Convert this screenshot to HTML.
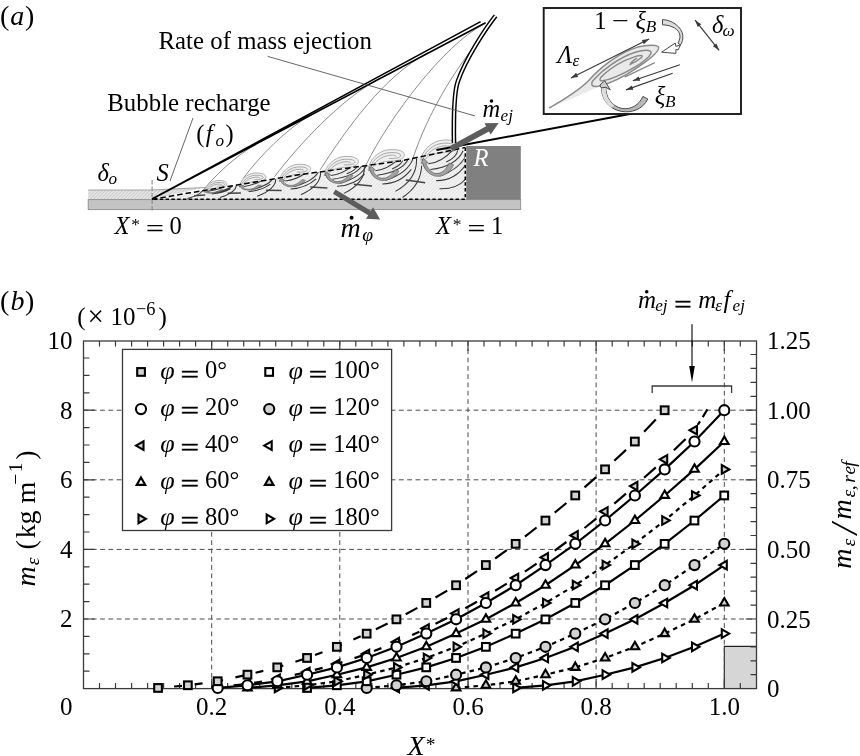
<!DOCTYPE html>
<html><head><meta charset="utf-8"><title>figure</title>
<style>
html,body{margin:0;padding:0;background:#fff;}
svg{display:block;}
text{font-family:"Liberation Serif",serif;fill:#000;}
</style></head><body>
<svg width="860" height="756" viewBox="0 0 860 756">
<rect width="860" height="756" fill="#fff"/>
<g id="panel-a">
<defs>
<pattern id="hat1" width="2.4" height="2.4" patternUnits="userSpaceOnUse" patternTransform="rotate(-45)"><rect width="2.4" height="2.4" fill="#eaeaea"/><rect width="2.4" height="1" fill="#c9c9c9"/></pattern>
<pattern id="hat2" width="2.4" height="2.4" patternUnits="userSpaceOnUse" patternTransform="rotate(-45)"><rect width="2.4" height="2.4" fill="#f4f4f4"/><rect width="2.4" height="0.9" fill="#e2e2e2"/></pattern>
<clipPath id="boxclip"><path d="M152 199.5 L190 192.8 L300 174.6 L400 161 L465.3 147.5 V199.5 Z"/></clipPath>
</defs>
<path d="M88.2 190 H152 L205 187.5 L152 199.3 H88.2 Z" fill="url(#hat1)"/>
<path d="M88.2 190 H152 L205 187.5" fill="none" stroke="#9a9a9a" stroke-width="0.9"/>
<path d="M152 199.3 L190 192.8 L300 174.6 L400 161 L465.3 147.5 V199.3 Z" fill="url(#hat2)"/>
<rect x="88.2" y="199.6" width="432.5" height="10" fill="#c3c3c3" stroke="#8c8c8c" stroke-width="0.9"/>
<rect x="466.2" y="146" width="54.6" height="53.6" fill="#808080"/>
<path d="M152.1 180 V212.5" stroke="#888" stroke-width="1.1" stroke-dasharray="4.5 2" fill="none"/>
<path d="M201.6 192.2 C212.4 177.8 236.6 154.9 256 144.5 M243.3 178.3 C258.7 157.4 286.5 128.1 313 114 M274.6 176.6 C298.3 145.6 340.3 99.4 380 78.2 M320.2 169.8 C346.7 128.5 383.9 76.2 428 52.6 M366.0 164.8 C390.1 116.5 443.3 45.8 483 24.6 M412.8 158.8 C428 112 456.6 68.5 472.3 49" fill="none" stroke="#707070" stroke-width="0.8"/>
<g>
<path d="M204.3 192.5 C204.9 187.1 210.4 181.2 217.3 180.6 C222.9 180.2 226.9 181.5 226.9 184.1 C226.8 186.5 222.7 187.9 218.4 187.8 C214.3 187.8 208.6 189.4 206.6 192.1 Z" fill="#efefef" stroke="#b0b0b0" stroke-width="1"/>
<path d="M205.8 191.3 C207.2 186.7 212.3 182.8 217.5 182.5 C221.8 182.3 224.8 183.0 224.6 184.5 C224.3 186.0 220.5 186.3 217.2 186.1 M207.7 190.0 C209.6 186.8 213.8 184.5 217.8 184.1 C220.2 184.0 222.1 184.4 221.8 184.9" fill="none" stroke="#a8a8a8" stroke-width="1"/>
<path d="M208.2 191.3 Q215.9 190.2 223.1 187.2 M211.7 194.0 Q223.0 192.8 230.5 188.7 M232.4 186.0 Q228.3 189.9 213.9 192.9 M201.7 191.0 Q201.1 194.8 187.4 198.6" fill="none" stroke="#3a3a3a" stroke-width="1.05" clip-path="url(#boxclip)"/>
<path d="M194.1 195.8 L205.2 195.1" fill="none" stroke="#444" stroke-width="1.5"/>
<path d="M222.8 189.9 C220.0 191.8 214.0 193.4 209.7 193.2 C206.8 193.0 205.5 192.3 205.1 191.5 L203.9 191.7 L205.8 190.5 L208.2 191.1 L206.9 191.3 C207.2 192.0 208.4 192.5 210.6 192.7 C213.9 192.8 217.8 191.5 220.4 189.8 Z" fill="#a2a2a2" stroke="#5a5a5a" stroke-width="0.6"/>
<path d="M239.4 187.0 C240.1 180.7 246.5 173.8 254.6 173.1 C261.2 172.6 265.9 174.1 265.9 177.2 C265.7 180.0 261.0 181.6 255.9 181.6 C251.1 181.5 244.4 183.4 242.1 186.6 Z" fill="#efefef" stroke="#b0b0b0" stroke-width="1"/>
<path d="M241.1 185.6 C242.8 180.3 248.8 175.7 254.9 175.3 C259.9 175.1 263.4 175.9 263.1 177.6 C262.8 179.4 258.4 179.8 254.5 179.6 M243.4 184.1 C245.6 180.4 250.5 177.7 255.2 177.2 C258.0 177.1 260.3 177.5 259.8 178.2" fill="none" stroke="#a8a8a8" stroke-width="1"/>
<path d="M244.1 186.5 Q253.1 185.3 261.4 180.7 M248.5 191.6 Q261.8 190.5 270.3 184.1 M272.4 179.4 Q267.8 185.9 251.0 189.9 M236.3 185.4 Q236.0 192.1 220.0 197.5" fill="none" stroke="#3a3a3a" stroke-width="1.05" clip-path="url(#boxclip)"/>
<path d="M227.7 193.2 L240.9 192.9" fill="none" stroke="#444" stroke-width="1.5"/>
<path d="M261.3 185.4 C258.1 188.6 251.2 190.8 246.0 190.0 C242.6 189.4 240.9 188.1 240.4 186.7 L239.0 186.8 L241.1 184.9 L244.0 186.2 L242.5 186.3 C243.0 187.8 244.4 188.7 247.0 189.2 C251.0 189.7 255.5 187.9 258.4 185.1 Z" fill="#a2a2a2" stroke="#5a5a5a" stroke-width="0.6"/>
<path d="M279.4 180.8 C280.2 173.4 287.9 165.3 297.3 164.4 C305.1 163.9 310.7 165.6 310.6 169.3 C310.5 172.6 304.8 174.5 298.9 174.4 C293.3 174.3 285.4 176.6 282.7 180.3 Z" fill="#efefef" stroke="#b0b0b0" stroke-width="1"/>
<path d="M281.5 179.2 C283.5 172.9 290.5 167.5 297.7 167.0 C303.6 166.8 307.7 167.7 307.4 169.8 C307.1 171.8 301.9 172.3 297.2 172.1 M284.2 177.4 C286.8 173.0 292.5 169.8 298.1 169.3 C301.3 169.1 304.1 169.6 303.5 170.4" fill="none" stroke="#a8a8a8" stroke-width="1"/>
<path d="M285.1 181.1 Q295.8 179.8 305.3 173.2 M290.6 188.9 Q306.3 188.0 316.1 178.8 M318.3 171.9 Q313.2 181.3 293.5 186.5 M275.8 178.9 Q275.8 189.0 257.1 196.3" fill="none" stroke="#3a3a3a" stroke-width="1.05" clip-path="url(#boxclip)"/>
<path d="M266.1 190.2 L281.6 190.5" fill="none" stroke="#444" stroke-width="1.5"/>
<path d="M305.4 180.3 C301.9 184.9 293.8 187.9 287.6 186.4 C283.5 185.4 281.5 183.2 280.8 181.1 L279.2 181.2 L281.5 178.5 L285.0 180.6 L283.2 180.7 C283.9 182.9 285.6 184.3 288.7 185.2 C293.5 186.2 298.7 183.6 302.0 179.6 Z" fill="#a2a2a2" stroke="#5a5a5a" stroke-width="0.6"/>
<path d="M324.5 174.3 C325.4 166.3 333.7 157.4 343.9 156.5 C352.5 155.9 358.5 157.8 358.4 161.8 C358.3 165.4 352.1 167.4 345.7 167.4 C339.5 167.3 330.9 169.7 328.0 173.8 Z" fill="#efefef" stroke="#b0b0b0" stroke-width="1"/>
<path d="M326.7 172.5 C328.9 165.7 336.6 159.8 344.4 159.3 C350.8 159.0 355.3 160.1 354.9 162.3 C354.5 164.5 348.9 165.1 343.8 164.8 M329.6 170.6 C332.5 165.9 338.8 162.4 344.8 161.8 C348.3 161.6 351.3 162.2 350.7 163.0" fill="none" stroke="#a8a8a8" stroke-width="1"/>
<path d="M330.8 175.6 Q342.4 174.2 352.6 165.9 M325.6 172.5 C326.3 181.5 335.1 184.9 347.6 179.7 M337.1 186.3 Q354.3 185.6 364.6 173.8 M357.2 165.6 Q356.2 170.2 346.7 173.8 M366.8 164.6 Q361.6 177.0 340.3 183.2 M361.9 165.8 Q355.3 176.2 332.5 179.3 M320.6 172.3 Q320.9 185.8 300.8 194.8" fill="none" stroke="#3a3a3a" stroke-width="1.05" clip-path="url(#boxclip)"/>
<path d="M310.3 187.0 L327.4 188.0" fill="none" stroke="#444" stroke-width="1.5"/>
<path d="M353.0 175.4 C349.3 181.3 340.5 185.0 333.7 182.8 C329.2 181.2 326.9 178.3 326.1 175.4 L324.3 175.5 L326.8 172.1 L330.7 174.9 L328.7 175.0 C329.5 177.9 331.5 179.9 334.9 181.3 C340.2 182.8 345.8 179.5 349.3 174.3 Z" fill="#a2a2a2" stroke="#5a5a5a" stroke-width="0.6"/>
<path d="M368.5 168.5 C369.4 160.0 378.2 150.6 389.1 149.7 C398.1 149.0 404.5 151.0 404.4 155.2 C404.2 159.0 397.7 161.2 390.9 161.2 C384.4 161.0 375.3 163.6 372.2 167.9 Z" fill="#efefef" stroke="#b0b0b0" stroke-width="1"/>
<path d="M370.9 166.6 C373.1 159.4 381.3 153.2 389.5 152.6 C396.3 152.3 401.0 153.5 400.7 155.8 C400.3 158.2 394.3 158.7 388.9 158.4 M374.0 164.6 C377.0 159.6 383.6 155.9 389.9 155.2 C393.7 155.0 396.8 155.7 396.2 156.5" fill="none" stroke="#a8a8a8" stroke-width="1"/>
<path d="M375.3 170.8 Q387.6 169.4 398.2 159.4 M369.7 166.8 C370.7 177.8 380.2 182.3 393.3 176.2 M382.3 183.9 Q400.5 183.6 411.2 169.4 M403.1 159.2 Q402.1 164.8 392.1 169.0 M413.2 158.2 Q408.0 173.3 385.6 180.3 M408.1 159.6 Q401.3 172.1 377.2 175.3 M364.4 166.5 Q365.1 183.0 344.0 193.4" fill="none" stroke="#3a3a3a" stroke-width="1.05" clip-path="url(#boxclip)"/>
<path d="M353.9 184.2 L372.0 185.9" fill="none" stroke="#444" stroke-width="1.5"/>
<path d="M398.9 171.0 C395.1 178.2 385.9 182.5 378.6 179.7 C373.7 177.6 371.3 174.0 370.3 170.4 L368.4 170.4 L371.0 166.3 L375.2 169.9 L373.1 170.0 C374.0 173.5 376.2 176.1 379.8 177.8 C385.5 179.7 391.3 175.9 394.9 169.7 Z" fill="#a2a2a2" stroke="#5a5a5a" stroke-width="0.6"/>
<path d="M420.8 160.2 C421.8 151.1 431.2 141.1 442.8 140.1 C452.4 139.4 459.2 141.5 459.1 146.0 C458.9 150.1 452.0 152.4 444.7 152.3 C437.8 152.2 428.1 155.0 424.8 159.5 Z" fill="#efefef" stroke="#b0b0b0" stroke-width="1"/>
<path d="M423.3 158.1 C425.8 150.5 434.4 143.8 443.3 143.2 C450.5 142.9 455.6 144.1 455.1 146.6 C454.7 149.1 448.3 149.7 442.6 149.4 M426.7 156.0 C429.9 150.6 436.9 146.7 443.7 146.0 C447.7 145.8 451.1 146.5 450.4 147.4" fill="none" stroke="#a8a8a8" stroke-width="1"/>
<path d="M428.3 163.8 Q441.4 162.5 452.5 150.3 M422.2 158.7 C423.6 172.5 433.9 178.5 447.7 171.2 M436.2 180.6 Q455.7 180.8 466.7 163.2 M439.5 188.8 Q459.9 189.5 469.2 174.3 M457.7 150.2 Q456.8 157.2 446.2 162.1 M468.5 149.2 Q463.4 168.0 439.6 176.1 M463.1 150.7 Q456.2 166.3 430.4 169.6 M416.5 158.1 Q417.7 178.9 395.4 191.4 M421.7 165.6 Q420.8 185.6 402.5 197.5" fill="none" stroke="#3a3a3a" stroke-width="1.05" clip-path="url(#boxclip)"/>
<path d="M405.8 180.0 L425.2 182.7" fill="none" stroke="#444" stroke-width="1.5"/>
<path d="M453.6 164.9 C449.7 173.8 440.0 178.9 432.1 175.1 C426.8 172.4 424.1 167.8 422.9 163.2 L420.9 163.2 L423.5 158.1 L428.1 162.8 L425.9 162.8 C427.0 167.3 429.4 170.5 433.4 172.8 C439.4 175.4 445.6 170.8 449.2 163.0 Z" fill="#a2a2a2" stroke="#5a5a5a" stroke-width="0.6"/>
</g>
<path d="M152 199.3 L190 192.8 L300 174.6 L400 161 L465.3 147.5" fill="none" stroke="#000" stroke-width="1.5" stroke-dasharray="5.5 3"/>
<path d="M465.3 147.5 V199.2 H152" fill="none" stroke="#000" stroke-width="1.5" stroke-dasharray="3.4 2.4"/>
<path d="M152 199 L480.6 21.6 M152 199 L485.6 22.7" fill="none" stroke="#000" stroke-width="1.6"/>
<path d="M495.6 15.8 C486 28 466 58 457.8 81.4 C453.9 92.6 453.6 120 454 143" fill="none" stroke="#000" stroke-width="4.6"/>
<path d="M495.6 15.8 C486 28 466 58 457.8 81.4 C453.9 92.6 453.6 120 454 143" fill="none" stroke="#fff" stroke-width="1.7"/>
<path d="M267.7 56.4 L474.9 115.9 M193 118 L170 181" fill="none" stroke="#555" stroke-width="0.9"/>
<path d="M436.4 150 L632.5 113.5" fill="none" stroke="#000" stroke-width="1.9"/>
<polygon points="452.3,151.3 489.0,131.4 490.7,134.6 498.6,122.9 484.5,123.2 486.2,126.3 449.5,146.3" fill="#5c5c5c"/>
<polygon points="332.9,193.8 368.2,215.2 366.0,218.8 380.2,219.5 373.0,207.2 370.9,210.8 335.5,189.4" fill="#5c5c5c"/>
<rect x="543.7" y="8" width="197.3" height="106" fill="#fff" stroke="#1a1a1a" stroke-width="1.9"/>
<path d="M549.0 108.1 C566.0 98.4 579.1 90.2 588.8 80.5 C598.6 69.1 618.1 52.8 637.7 47.1 C647.4 44.7 657.2 44.7 658.5 47.1 C659.6 50.3 652.3 57.7 637.7 67.4 C624.6 76.4 610.0 83.7 598.6 86.2 C580.7 95.1 564.4 101.6 549.0 108.1 Z" fill="#e9e9e9" stroke="none"/>
<path d="M549.0 108.1 C566.0 98.4 579.1 90.2 588.8 80.5 C598.6 69.1 618.1 52.8 637.7 47.1 C647.4 44.7 657.2 44.7 658.5 47.1 C659.6 50.3 652.3 57.7 637.7 67.4 C624.6 76.4 610.0 83.7 598.6 86.2 C592.1 87.3 589.7 84.5 593.7 79.7 C601.9 70.7 618.1 57.7 636.0 52.0 C644.2 49.5 650.7 49.5 651.0 52.3 C651.3 55.2 644.2 61.7 634.4 67.4 C623.0 74.0 610.0 79.7 602.7 80.8 C598.6 81.3 599.4 78.0 603.5 74.8 C611.6 67.4 624.6 60.1 634.4 56.9 C640.9 54.7 644.2 55.2 640.9 58.0 C637.7 60.6 632.8 63.4 630.3 64.2 C631.2 61.7 634.4 60.1 636.9 58.0" fill="none" stroke="#8a8a8a" stroke-width="1.5"/>
<path d="M624.6 77.2 L654.8 62.6" fill="none" stroke="#8a8a8a" stroke-width="1.4"/>
<path d="M570.9 78.0 L649.1 39.0" stroke="#3a3a3a" stroke-width="1.2" fill="none"/><polygon points="649.1,39.0 643.9,44.2 641.8,40.1" fill="#3a3a3a"/><polygon points="570.9,78.0 576.1,72.8 578.2,76.9" fill="#3a3a3a"/>
<path d="M695.1 20.2 L719.1 50.3" stroke="#3a3a3a" stroke-width="1.2" fill="none"/><polygon points="719.1,50.3 712.9,46.3 716.5,43.4" fill="#3a3a3a"/><polygon points="695.1,20.2 701.3,24.2 697.7,27.1" fill="#3a3a3a"/>
<path d="M679.9 64.8 L632.8 80.8" stroke="#3a3a3a" stroke-width="1.2" fill="none"/><polygon points="632.8,80.8 638.7,76.4 640.2,80.7" fill="#3a3a3a"/>
<path d="M672.7 73.2 L626.0 89.9" stroke="#3a3a3a" stroke-width="1.2" fill="none"/><polygon points="626.0,89.9 631.8,85.4 633.4,89.7" fill="#3a3a3a"/>
<path d="M662.5 19.5 C672.7 20.2 681.8 27.1 682.8 35.4 C683.1 39.2 682.3 42.3 680.5 44.9 L678.0 43.0 C679.6 40.3 680.2 37.7 679.9 35.4 C679.3 29.3 671.9 25.1 662.5 24.8 Z" fill="#dcdcdc" stroke="#4a4a4a" stroke-width="1"/>
<path d="M661.6 52.2 L675.3 43.0 L675.9 46.4 L680.5 44.9 L678.0 50.0 L675.9 49.4 L675.9 53.4 Z" fill="#fff" stroke="#4a4a4a" stroke-width="1"/>
<path d="M642.9 96.4 L647.8 99.0 C642.6 109.8 631.2 113.0 621.4 111.4 C608.4 109.0 601.0 98.4 601.5 87.0 L605.8 87.0 C605.4 96.7 611.6 106.5 622.2 108.5 C631.2 109.8 639.3 104.9 642.9 96.4 Z" fill="#b8b8b8" stroke="#4a4a4a" stroke-width="1"/>
<path d="M601.5 87.3 C601.2 95.1 604.3 102.4 611.6 107.8 L614.1 105.2 C608.0 100.0 605.4 94.3 605.8 87.3 Z" fill="#dedede" stroke="none"/>
<path d="M604.8 80.8 L610.3 89.9 L605.9 87.3 L601.2 87.8 L599.9 85.0 Z" fill="#cfcfcf" stroke="#4a4a4a" stroke-width="1"/>
<text x="158.4" y="48.6" font-size="24.8" textLength="213.4" lengthAdjust="spacing">Rate of mass ejection</text>
<text x="107.2" y="111.2" font-size="24.8" textLength="163.4" lengthAdjust="spacing">Bubble recharge</text>
<text x="196.3" y="141.5" font-size="24.5">(</text>
<text x="205.7" y="141.5" font-size="24.5" font-style="italic">f</text>
<text x="215.6" y="145.9" font-size="17.2" font-style="italic">o</text>
<text x="225.6" y="141.5" font-size="24.5">)</text>
<text x="97.6" y="181" font-size="24.5" font-style="italic">δ</text>
<text x="108.6" y="184" font-size="17.2" font-style="italic">o</text>
<text x="156.4" y="181.3" font-size="24.5" font-style="italic">S</text>
<text x="114.4" y="233.7" font-size="24.5" font-style="italic">X</text><text x="131.20000000000002" y="230.1" font-size="17.5">*</text><text x="146.0" y="236.79999999999998" font-size="24.5" textLength="17.8" lengthAdjust="spacingAndGlyphs" stroke="#000" stroke-width="0.2">=</text><text x="169.4" y="233.7" font-size="24.5">0</text>
<text x="436" y="233.7" font-size="24.5" font-style="italic">X</text><text x="452.8" y="230.1" font-size="17.5">*</text><text x="467.6" y="236.79999999999998" font-size="24.5" textLength="17.8" lengthAdjust="spacingAndGlyphs" stroke="#000" stroke-width="0.2">=</text><text x="491" y="233.7" font-size="24.5">1</text>
<text x="473.6" y="165.7" font-size="24.5" font-style="italic" style="fill:#fff">R</text>
<text x="482.6" y="116.9" font-size="24.5" font-style="italic">m</text>
<text x="500.6" y="120.7" font-size="17.2" font-style="italic">ej</text>
<circle cx="491.5" cy="101" r="1.8" fill="#000"/>
<text x="340.6" y="236.9" font-size="28" font-style="italic">m</text>
<text x="362.2" y="240.8" font-size="19.6" font-style="italic">φ</text>
<circle cx="351.6" cy="217.7" r="2" fill="#000"/>
<text x="594.2" y="29.4" font-size="24.5">1</text>
<text x="612" y="29.4" font-size="24.5" textLength="17" lengthAdjust="spacingAndGlyphs">−</text>
<text x="635.6" y="29.4" font-size="24.5" font-style="italic">ξ</text>
<text x="645.8" y="32" font-size="17.2" font-style="italic">B</text>
<text x="654.8" y="104.4" font-size="24.5" font-style="italic">ξ</text>
<text x="665.1" y="106.9" font-size="17.2" font-style="italic">B</text>
<text x="712.1" y="32.8" font-size="24.5" font-style="italic">δ</text>
<text x="722.4" y="36.2" font-size="17.2" font-style="italic">ω</text>
<text x="557.5" y="62.8" font-size="24.5" font-style="italic">Λ</text>
<text x="572.4" y="66" font-size="17.2" font-style="italic">ε</text>
</g>
<g id="panel-b">
<rect x="724.3" y="646.4" width="32.2" height="42.2" fill="#d6d6d6"/>
<path d="M724.3 688.6 V646.4 H756.5" fill="none" stroke="#222" stroke-width="1.1"/>
<path d="M211.7 341.0 V688.6 M339.8 341.0 V688.6 M468.0 341.0 V688.6 M596.1 341.0 V688.6 M724.3 341.0 V688.6 M83.5 619.0 H756.5 M83.5 549.4 H756.5 M83.5 479.8 H756.5 M83.5 410.2 H756.5" fill="none" stroke="#4a4a4a" stroke-width="1" stroke-dasharray="4.8 3.5"/>
<path d="M99.5 688.6 v-5.5 M99.5 341.0 v5.5 M115.5 688.6 v-5.5 M115.5 341.0 v5.5 M131.6 688.6 v-5.5 M131.6 341.0 v5.5 M147.6 688.6 v-5.5 M147.6 341.0 v5.5 M163.6 688.6 v-5.5 M163.6 341.0 v5.5 M179.6 688.6 v-5.5 M179.6 341.0 v5.5 M195.6 688.6 v-5.5 M195.6 341.0 v5.5 M211.7 688.6 v-10 M211.7 341.0 v10 M227.7 688.6 v-5.5 M227.7 341.0 v5.5 M243.7 688.6 v-5.5 M243.7 341.0 v5.5 M259.7 688.6 v-5.5 M259.7 341.0 v5.5 M275.7 688.6 v-5.5 M275.7 341.0 v5.5 M291.8 688.6 v-5.5 M291.8 341.0 v5.5 M307.8 688.6 v-5.5 M307.8 341.0 v5.5 M323.8 688.6 v-5.5 M323.8 341.0 v5.5 M339.8 688.6 v-10 M339.8 341.0 v10 M355.8 688.6 v-5.5 M355.8 341.0 v5.5 M371.9 688.6 v-5.5 M371.9 341.0 v5.5 M387.9 688.6 v-5.5 M387.9 341.0 v5.5 M403.9 688.6 v-5.5 M403.9 341.0 v5.5 M419.9 688.6 v-5.5 M419.9 341.0 v5.5 M435.9 688.6 v-5.5 M435.9 341.0 v5.5 M452.0 688.6 v-5.5 M452.0 341.0 v5.5 M468.0 688.6 v-10 M468.0 341.0 v10 M484.0 688.6 v-5.5 M484.0 341.0 v5.5 M500.0 688.6 v-5.5 M500.0 341.0 v5.5 M516.0 688.6 v-5.5 M516.0 341.0 v5.5 M532.1 688.6 v-5.5 M532.1 341.0 v5.5 M548.1 688.6 v-5.5 M548.1 341.0 v5.5 M564.1 688.6 v-5.5 M564.1 341.0 v5.5 M580.1 688.6 v-5.5 M580.1 341.0 v5.5 M596.1 688.6 v-10 M596.1 341.0 v10 M612.2 688.6 v-5.5 M612.2 341.0 v5.5 M628.2 688.6 v-5.5 M628.2 341.0 v5.5 M644.2 688.6 v-5.5 M644.2 341.0 v5.5 M660.2 688.6 v-5.5 M660.2 341.0 v5.5 M676.2 688.6 v-5.5 M676.2 341.0 v5.5 M692.3 688.6 v-5.5 M692.3 341.0 v5.5 M708.3 688.6 v-5.5 M708.3 341.0 v5.5 M724.3 688.6 v-10 M724.3 341.0 v10 M740.3 688.6 v-5.5 M740.3 341.0 v5.5 M83.5 671.2 h6 M83.5 653.8 h6 M83.5 636.4 h6 M83.5 619.0 h11 M83.5 601.6 h6 M83.5 584.2 h6 M83.5 566.8 h6 M83.5 549.4 h11 M83.5 532.0 h6 M83.5 514.6 h6 M83.5 497.2 h6 M83.5 479.8 h11 M83.5 462.4 h6 M83.5 445.0 h6 M83.5 427.6 h6 M83.5 410.2 h11 M83.5 392.8 h6 M83.5 375.4 h6 M83.5 358.0 h6 M756.5 674.7 h-6 M756.5 660.8 h-6 M756.5 646.8 h-6 M756.5 632.9 h-6 M756.5 619.0 h-11 M756.5 605.1 h-6 M756.5 591.2 h-6 M756.5 577.2 h-6 M756.5 563.3 h-6 M756.5 549.4 h-11 M756.5 535.5 h-6 M756.5 521.6 h-6 M756.5 507.6 h-6 M756.5 493.7 h-6 M756.5 479.8 h-11 M756.5 465.9 h-6 M756.5 452.0 h-6 M756.5 438.0 h-6 M756.5 424.1 h-6 M756.5 410.2 h-11 M756.5 396.3 h-6 M756.5 382.4 h-6 M756.5 368.4 h-6 M756.5 354.5 h-6" fill="none" stroke="#3a3a3a" stroke-width="1.2"/>
<rect x="83.5" y="341.0" width="673.0" height="347.6" fill="none" stroke="#3a3a3a" stroke-width="1.3"/>
<g><path d="M515.7 687.9 L545.5 685.3 L575.3 681.3 L605.1 674.7 L634.9 667.4 L664.7 658.0 L694.5 646.8 L724.3 633.6" fill="none" stroke="#000" stroke-width="2.2"/>
<polygon points="520.7,687.9 513.2,683.6 513.2,692.2" fill="#fff" stroke="#000" stroke-width="2.1"/>
<polygon points="550.5,685.3 543.0,681.0 543.0,689.6" fill="#fff" stroke="#000" stroke-width="2.1"/>
<polygon points="580.3,681.3 572.8,677.0 572.8,685.6" fill="#fff" stroke="#000" stroke-width="2.1"/>
<polygon points="610.1,674.7 602.6,670.4 602.6,679.0" fill="#fff" stroke="#000" stroke-width="2.1"/>
<polygon points="639.9,667.4 632.4,663.1 632.4,671.7" fill="#fff" stroke="#000" stroke-width="2.1"/>
<polygon points="669.7,658.0 662.2,653.7 662.2,662.3" fill="#fff" stroke="#000" stroke-width="2.1"/>
<polygon points="699.5,646.8 692.0,642.5 692.0,651.1" fill="#fff" stroke="#000" stroke-width="2.1"/>
<polygon points="729.3,633.6 721.8,629.3 721.8,637.9" fill="#fff" stroke="#000" stroke-width="2.1"/>
</g>
<g><path d="M456.1 687.9 L485.9 685.3 L515.7 681.3 L545.5 674.7 L575.3 667.4 L605.1 658.0 L634.9 646.8 L664.7 633.6 L694.5 619.3 L724.3 603.0" fill="none" stroke="#000" stroke-width="2.2" stroke-dasharray="4.5 4.2"/>
<polygon points="456.1,682.9 460.4,690.4 451.8,690.4" fill="#d2d2d2" stroke="#000" stroke-width="2.1"/>
<polygon points="485.9,680.3 490.2,687.8 481.6,687.8" fill="#d2d2d2" stroke="#000" stroke-width="2.1"/>
<polygon points="515.7,676.3 520.0,683.8 511.4,683.8" fill="#d2d2d2" stroke="#000" stroke-width="2.1"/>
<polygon points="545.5,669.7 549.8,677.2 541.2,677.2" fill="#d2d2d2" stroke="#000" stroke-width="2.1"/>
<polygon points="575.3,662.4 579.6,669.9 571.0,669.9" fill="#d2d2d2" stroke="#000" stroke-width="2.1"/>
<polygon points="605.1,653.0 609.4,660.5 600.8,660.5" fill="#d2d2d2" stroke="#000" stroke-width="2.1"/>
<polygon points="634.9,641.9 639.2,649.3 630.6,649.3" fill="#d2d2d2" stroke="#000" stroke-width="2.1"/>
<polygon points="664.7,628.7 669.0,636.1 660.4,636.1" fill="#d2d2d2" stroke="#000" stroke-width="2.1"/>
<polygon points="694.5,614.4 698.8,621.8 690.2,621.8" fill="#d2d2d2" stroke="#000" stroke-width="2.1"/>
<polygon points="724.3,598.0 728.6,605.5 720.0,605.5" fill="#d2d2d2" stroke="#000" stroke-width="2.1"/>
</g>
<g><path d="M396.5 687.9 L426.3 685.3 L456.1 681.3 L485.9 674.7 L515.7 667.4 L545.5 658.0 L575.3 646.8 L605.1 633.6 L634.9 619.3 L664.7 603.0 L694.5 585.2 L724.3 565.1" fill="none" stroke="#000" stroke-width="2.2"/>
<polygon points="391.5,687.9 399.0,683.6 399.0,692.2" fill="#fff" stroke="#000" stroke-width="2.1"/>
<polygon points="421.3,685.3 428.8,681.0 428.8,689.6" fill="#fff" stroke="#000" stroke-width="2.1"/>
<polygon points="451.1,681.3 458.6,677.0 458.6,685.6" fill="#fff" stroke="#000" stroke-width="2.1"/>
<polygon points="480.9,674.7 488.4,670.4 488.4,679.0" fill="#fff" stroke="#000" stroke-width="2.1"/>
<polygon points="510.7,667.4 518.2,663.1 518.2,671.7" fill="#fff" stroke="#000" stroke-width="2.1"/>
<polygon points="540.5,658.0 548.0,653.7 548.0,662.3" fill="#fff" stroke="#000" stroke-width="2.1"/>
<polygon points="570.3,646.8 577.8,642.5 577.8,651.1" fill="#fff" stroke="#000" stroke-width="2.1"/>
<polygon points="600.1,633.6 607.6,629.3 607.6,637.9" fill="#fff" stroke="#000" stroke-width="2.1"/>
<polygon points="629.9,619.3 637.4,615.0 637.4,623.6" fill="#fff" stroke="#000" stroke-width="2.1"/>
<polygon points="659.7,603.0 667.2,598.7 667.2,607.3" fill="#fff" stroke="#000" stroke-width="2.1"/>
<polygon points="689.5,585.2 697.0,580.9 697.0,589.5" fill="#fff" stroke="#000" stroke-width="2.1"/>
<polygon points="719.3,565.1 726.8,560.8 726.8,569.4" fill="#fff" stroke="#000" stroke-width="2.1"/>
</g>
<g><path d="M366.7 687.9 L396.5 685.3 L426.3 681.3 L456.1 674.7 L485.9 667.4 L515.7 658.0 L545.5 646.8 L575.3 633.6 L605.1 619.3 L634.9 603.0 L664.7 585.2 L694.5 565.1 L724.3 543.8" fill="none" stroke="#000" stroke-width="2.2" stroke-dasharray="4.5 4.2"/>
<circle cx="366.7" cy="687.9" r="5.05" fill="#d2d2d2" stroke="#000" stroke-width="2.1"/>
<circle cx="396.5" cy="685.3" r="5.05" fill="#d2d2d2" stroke="#000" stroke-width="2.1"/>
<circle cx="426.3" cy="681.3" r="5.05" fill="#d2d2d2" stroke="#000" stroke-width="2.1"/>
<circle cx="456.1" cy="674.7" r="5.05" fill="#d2d2d2" stroke="#000" stroke-width="2.1"/>
<circle cx="485.9" cy="667.4" r="5.05" fill="#d2d2d2" stroke="#000" stroke-width="2.1"/>
<circle cx="515.7" cy="658.0" r="5.05" fill="#d2d2d2" stroke="#000" stroke-width="2.1"/>
<circle cx="545.5" cy="646.8" r="5.05" fill="#d2d2d2" stroke="#000" stroke-width="2.1"/>
<circle cx="575.3" cy="633.6" r="5.05" fill="#d2d2d2" stroke="#000" stroke-width="2.1"/>
<circle cx="605.1" cy="619.3" r="5.05" fill="#d2d2d2" stroke="#000" stroke-width="2.1"/>
<circle cx="634.9" cy="603.0" r="5.05" fill="#d2d2d2" stroke="#000" stroke-width="2.1"/>
<circle cx="664.7" cy="585.2" r="5.05" fill="#d2d2d2" stroke="#000" stroke-width="2.1"/>
<circle cx="694.5" cy="565.1" r="5.05" fill="#d2d2d2" stroke="#000" stroke-width="2.1"/>
<circle cx="724.3" cy="543.8" r="5.05" fill="#d2d2d2" stroke="#000" stroke-width="2.1"/>
</g>
<g><path d="M307.1 687.9 L336.9 685.3 L366.7 681.3 L396.5 674.7 L426.3 667.4 L456.1 658.0 L485.9 646.8 L515.7 633.6 L545.5 619.3 L575.3 603.0 L605.1 585.2 L634.9 565.1 L664.7 543.8 L694.5 520.5 L724.3 495.5" fill="none" stroke="#000" stroke-width="2.2"/>
<rect x="303.2" y="684.1" width="7.7" height="7.7" fill="#fff" stroke="#000" stroke-width="2.1"/>
<rect x="333.0" y="681.4" width="7.7" height="7.7" fill="#fff" stroke="#000" stroke-width="2.1"/>
<rect x="362.8" y="677.4" width="7.7" height="7.7" fill="#fff" stroke="#000" stroke-width="2.1"/>
<rect x="392.6" y="670.8" width="7.7" height="7.7" fill="#fff" stroke="#000" stroke-width="2.1"/>
<rect x="422.4" y="663.5" width="7.7" height="7.7" fill="#fff" stroke="#000" stroke-width="2.1"/>
<rect x="452.2" y="654.1" width="7.7" height="7.7" fill="#fff" stroke="#000" stroke-width="2.1"/>
<rect x="482.0" y="643.0" width="7.7" height="7.7" fill="#fff" stroke="#000" stroke-width="2.1"/>
<rect x="511.8" y="629.8" width="7.7" height="7.7" fill="#fff" stroke="#000" stroke-width="2.1"/>
<rect x="541.6" y="615.5" width="7.7" height="7.7" fill="#fff" stroke="#000" stroke-width="2.1"/>
<rect x="571.4" y="599.1" width="7.7" height="7.7" fill="#fff" stroke="#000" stroke-width="2.1"/>
<rect x="601.2" y="581.4" width="7.7" height="7.7" fill="#fff" stroke="#000" stroke-width="2.1"/>
<rect x="631.0" y="561.2" width="7.7" height="7.7" fill="#fff" stroke="#000" stroke-width="2.1"/>
<rect x="660.8" y="540.0" width="7.7" height="7.7" fill="#fff" stroke="#000" stroke-width="2.1"/>
<rect x="690.6" y="516.7" width="7.7" height="7.7" fill="#fff" stroke="#000" stroke-width="2.1"/>
<rect x="720.4" y="491.6" width="7.7" height="7.7" fill="#fff" stroke="#000" stroke-width="2.1"/>
</g>
<g><path d="M277.3 687.9 L307.1 685.3 L336.9 681.3 L366.7 674.7 L396.5 667.4 L426.3 658.0 L456.1 646.8 L485.9 633.6 L515.7 619.3 L545.5 603.0 L575.3 585.2 L605.1 565.1 L634.9 543.8 L664.7 520.5 L694.5 495.5 L724.3 469.4" fill="none" stroke="#000" stroke-width="2.2" stroke-dasharray="4.5 4.2"/>
<polygon points="282.3,687.9 274.8,683.6 274.8,692.2" fill="#d2d2d2" stroke="#000" stroke-width="2.1"/>
<polygon points="312.1,685.3 304.6,681.0 304.6,689.6" fill="#d2d2d2" stroke="#000" stroke-width="2.1"/>
<polygon points="341.9,681.3 334.4,677.0 334.4,685.6" fill="#d2d2d2" stroke="#000" stroke-width="2.1"/>
<polygon points="371.7,674.7 364.2,670.4 364.2,679.0" fill="#d2d2d2" stroke="#000" stroke-width="2.1"/>
<polygon points="401.5,667.4 394.0,663.1 394.0,671.7" fill="#d2d2d2" stroke="#000" stroke-width="2.1"/>
<polygon points="431.3,658.0 423.8,653.7 423.8,662.3" fill="#d2d2d2" stroke="#000" stroke-width="2.1"/>
<polygon points="461.1,646.8 453.6,642.5 453.6,651.1" fill="#d2d2d2" stroke="#000" stroke-width="2.1"/>
<polygon points="490.9,633.6 483.4,629.3 483.4,637.9" fill="#d2d2d2" stroke="#000" stroke-width="2.1"/>
<polygon points="520.7,619.3 513.2,615.0 513.2,623.6" fill="#d2d2d2" stroke="#000" stroke-width="2.1"/>
<polygon points="550.5,603.0 543.0,598.7 543.0,607.3" fill="#d2d2d2" stroke="#000" stroke-width="2.1"/>
<polygon points="580.3,585.2 572.8,580.9 572.8,589.5" fill="#d2d2d2" stroke="#000" stroke-width="2.1"/>
<polygon points="610.1,565.1 602.6,560.8 602.6,569.4" fill="#d2d2d2" stroke="#000" stroke-width="2.1"/>
<polygon points="639.9,543.8 632.4,539.5 632.4,548.1" fill="#d2d2d2" stroke="#000" stroke-width="2.1"/>
<polygon points="669.7,520.5 662.2,516.2 662.2,524.8" fill="#d2d2d2" stroke="#000" stroke-width="2.1"/>
<polygon points="699.5,495.5 692.0,491.2 692.0,499.8" fill="#d2d2d2" stroke="#000" stroke-width="2.1"/>
<polygon points="729.3,469.4 721.8,465.1 721.8,473.7" fill="#d2d2d2" stroke="#000" stroke-width="2.1"/>
</g>
<g><path d="M247.5 687.9 L277.3 685.3 L307.1 681.3 L336.9 674.7 L366.7 667.4 L396.5 658.0 L426.3 646.8 L456.1 633.6 L485.9 619.3 L515.7 603.0 L545.5 585.2 L575.3 565.1 L605.1 543.8 L634.9 520.5 L664.7 495.5 L694.5 469.4 L724.3 441.5" fill="none" stroke="#000" stroke-width="2.2"/>
<polygon points="247.5,682.9 251.8,690.4 243.2,690.4" fill="#fff" stroke="#000" stroke-width="2.1"/>
<polygon points="277.3,680.3 281.6,687.8 273.0,687.8" fill="#fff" stroke="#000" stroke-width="2.1"/>
<polygon points="307.1,676.3 311.4,683.8 302.8,683.8" fill="#fff" stroke="#000" stroke-width="2.1"/>
<polygon points="336.9,669.7 341.2,677.2 332.6,677.2" fill="#fff" stroke="#000" stroke-width="2.1"/>
<polygon points="366.7,662.4 371.0,669.9 362.4,669.9" fill="#fff" stroke="#000" stroke-width="2.1"/>
<polygon points="396.5,653.0 400.8,660.5 392.2,660.5" fill="#fff" stroke="#000" stroke-width="2.1"/>
<polygon points="426.3,641.9 430.6,649.3 422.0,649.3" fill="#fff" stroke="#000" stroke-width="2.1"/>
<polygon points="456.1,628.7 460.4,636.1 451.8,636.1" fill="#fff" stroke="#000" stroke-width="2.1"/>
<polygon points="485.9,614.4 490.2,621.8 481.6,621.8" fill="#fff" stroke="#000" stroke-width="2.1"/>
<polygon points="515.7,598.0 520.0,605.5 511.4,605.5" fill="#fff" stroke="#000" stroke-width="2.1"/>
<polygon points="545.5,580.3 549.8,587.7 541.2,587.7" fill="#fff" stroke="#000" stroke-width="2.1"/>
<polygon points="575.3,560.1 579.6,567.5 571.0,567.5" fill="#fff" stroke="#000" stroke-width="2.1"/>
<polygon points="605.1,538.9 609.4,546.3 600.8,546.3" fill="#fff" stroke="#000" stroke-width="2.1"/>
<polygon points="634.9,515.6 639.2,523.0 630.6,523.0" fill="#fff" stroke="#000" stroke-width="2.1"/>
<polygon points="664.7,490.5 669.0,497.9 660.4,497.9" fill="#fff" stroke="#000" stroke-width="2.1"/>
<polygon points="694.5,464.4 698.8,471.8 690.2,471.8" fill="#fff" stroke="#000" stroke-width="2.1"/>
<polygon points="724.3,436.6 728.6,444.0 720.0,444.0" fill="#fff" stroke="#000" stroke-width="2.1"/>
</g>
<g><path d="M217.7 687.0 L247.5 683.9 L277.3 678.9 L307.1 672.0 L336.9 664.0 L366.7 654.0 L396.5 642.1 L426.3 628.5" fill="none" stroke="#000" stroke-width="2.2" stroke-dasharray="8 12.7" stroke-dashoffset="4.7"/>
<path d="M435.5 623.8 L447.2 618.0 M465.3 608.2 L477.0 601.7 M495.1 590.8 L506.8 583.6 M524.9 571.6 L536.6 563.6 M554.7 550.6 L566.4 542.0 M584.5 528.0 L596.2 518.7 M614.3 503.6 L626.0 493.7 M644.1 477.8 L655.8 467.4 M673.9 450.3 L685.6 439.0 M697.9 424.7 L700.0 421.3 M702.7 417.1 L707.4 409.4" fill="none" stroke="#000" stroke-width="2.2"/>
<polygon points="212.7,687.0 220.2,682.7 220.2,691.3" fill="#d2d2d2" stroke="#000" stroke-width="2.1"/>
<polygon points="242.5,683.9 250.0,679.6 250.0,688.2" fill="#d2d2d2" stroke="#000" stroke-width="2.1"/>
<polygon points="272.3,678.9 279.8,674.6 279.8,683.2" fill="#d2d2d2" stroke="#000" stroke-width="2.1"/>
<polygon points="302.1,672.0 309.6,667.7 309.6,676.3" fill="#d2d2d2" stroke="#000" stroke-width="2.1"/>
<polygon points="331.9,664.0 339.4,659.7 339.4,668.3" fill="#d2d2d2" stroke="#000" stroke-width="2.1"/>
<polygon points="361.7,654.0 369.2,649.7 369.2,658.3" fill="#d2d2d2" stroke="#000" stroke-width="2.1"/>
<polygon points="391.5,642.1 399.0,637.8 399.0,646.4" fill="#d2d2d2" stroke="#000" stroke-width="2.1"/>
<polygon points="421.3,628.5 428.8,624.2 428.8,632.8" fill="#d2d2d2" stroke="#000" stroke-width="2.1"/>
<polygon points="451.1,613.5 458.6,609.2 458.6,617.8" fill="#d2d2d2" stroke="#000" stroke-width="2.1"/>
<polygon points="480.9,596.6 488.4,592.3 488.4,600.9" fill="#d2d2d2" stroke="#000" stroke-width="2.1"/>
<polygon points="510.7,578.0 518.2,573.7 518.2,582.3" fill="#d2d2d2" stroke="#000" stroke-width="2.1"/>
<polygon points="540.5,557.4 548.0,553.1 548.0,561.7" fill="#d2d2d2" stroke="#000" stroke-width="2.1"/>
<polygon points="570.3,535.4 577.8,531.1 577.8,539.7" fill="#d2d2d2" stroke="#000" stroke-width="2.1"/>
<polygon points="600.1,511.5 607.6,507.2 607.6,515.8" fill="#d2d2d2" stroke="#000" stroke-width="2.1"/>
<polygon points="629.9,486.1 637.4,481.8 637.4,490.4" fill="#d2d2d2" stroke="#000" stroke-width="2.1"/>
<polygon points="659.7,459.3 667.2,455.0 667.2,463.6" fill="#d2d2d2" stroke="#000" stroke-width="2.1"/>
<polygon points="689.5,430.2 697.0,425.9 697.0,434.5" fill="#d2d2d2" stroke="#000" stroke-width="2.1"/>
</g>
<g><path d="M217.7 687.9 L247.5 685.3 L277.3 681.3 L307.1 674.7 L336.9 667.4 L366.7 658.0 L396.5 646.8 L426.3 633.6 L456.1 619.3 L485.9 603.0 L515.7 585.2 L545.5 565.1 L575.3 543.8 L605.1 520.5 L634.9 495.5 L664.7 469.4 L694.5 441.5 L724.3 410.2" fill="none" stroke="#000" stroke-width="2.2"/>
<circle cx="217.7" cy="687.9" r="5.05" fill="#fff" stroke="#000" stroke-width="2.1"/>
<circle cx="247.5" cy="685.3" r="5.05" fill="#fff" stroke="#000" stroke-width="2.1"/>
<circle cx="277.3" cy="681.3" r="5.05" fill="#fff" stroke="#000" stroke-width="2.1"/>
<circle cx="307.1" cy="674.7" r="5.05" fill="#fff" stroke="#000" stroke-width="2.1"/>
<circle cx="336.9" cy="667.4" r="5.05" fill="#fff" stroke="#000" stroke-width="2.1"/>
<circle cx="366.7" cy="658.0" r="5.05" fill="#fff" stroke="#000" stroke-width="2.1"/>
<circle cx="396.5" cy="646.8" r="5.05" fill="#fff" stroke="#000" stroke-width="2.1"/>
<circle cx="426.3" cy="633.6" r="5.05" fill="#fff" stroke="#000" stroke-width="2.1"/>
<circle cx="456.1" cy="619.3" r="5.05" fill="#fff" stroke="#000" stroke-width="2.1"/>
<circle cx="485.9" cy="603.0" r="5.05" fill="#fff" stroke="#000" stroke-width="2.1"/>
<circle cx="515.7" cy="585.2" r="5.05" fill="#fff" stroke="#000" stroke-width="2.1"/>
<circle cx="545.5" cy="565.1" r="5.05" fill="#fff" stroke="#000" stroke-width="2.1"/>
<circle cx="575.3" cy="543.8" r="5.05" fill="#fff" stroke="#000" stroke-width="2.1"/>
<circle cx="605.1" cy="520.5" r="5.05" fill="#fff" stroke="#000" stroke-width="2.1"/>
<circle cx="634.9" cy="495.5" r="5.05" fill="#fff" stroke="#000" stroke-width="2.1"/>
<circle cx="664.7" cy="469.4" r="5.05" fill="#fff" stroke="#000" stroke-width="2.1"/>
<circle cx="694.5" cy="441.5" r="5.05" fill="#fff" stroke="#000" stroke-width="2.1"/>
<circle cx="724.3" cy="410.2" r="5.05" fill="#fff" stroke="#000" stroke-width="2.1"/>
</g>
<g><path d="M158.1 687.9 L187.9 685.3 L217.7 681.3 L247.5 674.7 L277.3 667.4 L307.1 658.0 L336.9 646.8 L366.7 633.6" fill="none" stroke="#000" stroke-width="2.2" stroke-dasharray="8 12.7" stroke-dashoffset="4.7"/>
<path d="M375.9 629.2 L387.6 623.6 M405.7 614.3 L417.4 607.9 M435.5 597.5 L447.2 590.6 M465.3 579.0 L477.0 571.1 M495.1 558.5 L506.8 550.2 M524.9 536.6 L536.6 527.5 M554.7 512.7 L566.4 503.0 M584.5 487.4 L596.2 477.2 M614.3 460.7 L626.0 449.9 M644.1 431.8 L655.8 419.6" fill="none" stroke="#000" stroke-width="2.2"/>
<rect x="154.2" y="684.1" width="7.7" height="7.7" fill="#d2d2d2" stroke="#000" stroke-width="2.1"/>
<rect x="184.0" y="681.4" width="7.7" height="7.7" fill="#d2d2d2" stroke="#000" stroke-width="2.1"/>
<rect x="213.8" y="677.4" width="7.7" height="7.7" fill="#d2d2d2" stroke="#000" stroke-width="2.1"/>
<rect x="243.6" y="670.8" width="7.7" height="7.7" fill="#d2d2d2" stroke="#000" stroke-width="2.1"/>
<rect x="273.4" y="663.5" width="7.7" height="7.7" fill="#d2d2d2" stroke="#000" stroke-width="2.1"/>
<rect x="303.2" y="654.1" width="7.7" height="7.7" fill="#d2d2d2" stroke="#000" stroke-width="2.1"/>
<rect x="333.0" y="643.0" width="7.7" height="7.7" fill="#d2d2d2" stroke="#000" stroke-width="2.1"/>
<rect x="362.8" y="629.8" width="7.7" height="7.7" fill="#d2d2d2" stroke="#000" stroke-width="2.1"/>
<rect x="392.6" y="615.5" width="7.7" height="7.7" fill="#d2d2d2" stroke="#000" stroke-width="2.1"/>
<rect x="422.4" y="599.1" width="7.7" height="7.7" fill="#d2d2d2" stroke="#000" stroke-width="2.1"/>
<rect x="452.2" y="581.4" width="7.7" height="7.7" fill="#d2d2d2" stroke="#000" stroke-width="2.1"/>
<rect x="482.0" y="561.2" width="7.7" height="7.7" fill="#d2d2d2" stroke="#000" stroke-width="2.1"/>
<rect x="511.8" y="540.0" width="7.7" height="7.7" fill="#d2d2d2" stroke="#000" stroke-width="2.1"/>
<rect x="541.6" y="516.7" width="7.7" height="7.7" fill="#d2d2d2" stroke="#000" stroke-width="2.1"/>
<rect x="571.4" y="491.6" width="7.7" height="7.7" fill="#d2d2d2" stroke="#000" stroke-width="2.1"/>
<rect x="601.2" y="465.5" width="7.7" height="7.7" fill="#d2d2d2" stroke="#000" stroke-width="2.1"/>
<rect x="631.0" y="437.7" width="7.7" height="7.7" fill="#d2d2d2" stroke="#000" stroke-width="2.1"/>
<rect x="660.8" y="406.4" width="7.7" height="7.7" fill="#d2d2d2" stroke="#000" stroke-width="2.1"/>
</g>
<rect x="122.5" y="349.4" width="269.1" height="181.1" fill="#fff" stroke="#3a3a3a" stroke-width="1.3"/>
<rect x="137.2" y="368.1" width="7.7" height="7.7" fill="#d2d2d2" stroke="#000" stroke-width="2.1"/>
<text x="160.29999999999998" y="378.8" font-size="26" font-style="italic">φ</text>
<text x="180.6" y="382.5" font-size="24.5" textLength="18.5" lengthAdjust="spacingAndGlyphs" stroke="#000" stroke-width="0.45">=</text>
<text x="205.1" y="378.2" font-size="24.5">0°</text>
<circle cx="141.0" cy="409.1" r="5.05" fill="#fff" stroke="#000" stroke-width="2.1"/>
<text x="160.29999999999998" y="415.6" font-size="26" font-style="italic">φ</text>
<text x="180.6" y="419.3" font-size="24.5" textLength="18.5" lengthAdjust="spacingAndGlyphs" stroke="#000" stroke-width="0.45">=</text>
<text x="205.1" y="415.0" font-size="24.5">20°</text>
<polygon points="136.0,445.6 143.5,441.3 143.5,449.9" fill="#d2d2d2" stroke="#000" stroke-width="2.1"/>
<text x="160.29999999999998" y="452.1" font-size="26" font-style="italic">φ</text>
<text x="180.6" y="455.8" font-size="24.5" textLength="18.5" lengthAdjust="spacingAndGlyphs" stroke="#000" stroke-width="0.45">=</text>
<text x="205.1" y="451.5" font-size="24.5">40°</text>
<polygon points="141.0,477.4 145.3,484.9 136.7,484.9" fill="#fff" stroke="#000" stroke-width="2.1"/>
<text x="160.29999999999998" y="488.6" font-size="26" font-style="italic">φ</text>
<text x="180.6" y="492.3" font-size="24.5" textLength="18.5" lengthAdjust="spacingAndGlyphs" stroke="#000" stroke-width="0.45">=</text>
<text x="205.1" y="488.0" font-size="24.5">60°</text>
<polygon points="146.0,518.8 138.5,514.5 138.5,523.1" fill="#d2d2d2" stroke="#000" stroke-width="2.1"/>
<text x="160.29999999999998" y="525.2" font-size="26" font-style="italic">φ</text>
<text x="180.6" y="528.9" font-size="24.5" textLength="18.5" lengthAdjust="spacingAndGlyphs" stroke="#000" stroke-width="0.45">=</text>
<text x="205.1" y="524.6" font-size="24.5">80°</text>
<rect x="265.3" y="368.1" width="7.7" height="7.7" fill="#fff" stroke="#000" stroke-width="2.1"/>
<text x="288.4" y="378.8" font-size="26" font-style="italic">φ</text>
<text x="308.7" y="382.5" font-size="24.5" textLength="18.5" lengthAdjust="spacingAndGlyphs" stroke="#000" stroke-width="0.45">=</text>
<text x="333.2" y="378.2" font-size="24.5">100°</text>
<circle cx="269.2" cy="409.1" r="5.05" fill="#d2d2d2" stroke="#000" stroke-width="2.1"/>
<text x="288.4" y="415.6" font-size="26" font-style="italic">φ</text>
<text x="308.7" y="419.3" font-size="24.5" textLength="18.5" lengthAdjust="spacingAndGlyphs" stroke="#000" stroke-width="0.45">=</text>
<text x="333.2" y="415.0" font-size="24.5">120°</text>
<polygon points="264.2,445.6 271.7,441.3 271.7,449.9" fill="#fff" stroke="#000" stroke-width="2.1"/>
<text x="288.4" y="452.1" font-size="26" font-style="italic">φ</text>
<text x="308.7" y="455.8" font-size="24.5" textLength="18.5" lengthAdjust="spacingAndGlyphs" stroke="#000" stroke-width="0.45">=</text>
<text x="333.2" y="451.5" font-size="24.5">140°</text>
<polygon points="269.2,477.4 273.5,484.9 264.9,484.9" fill="#d2d2d2" stroke="#000" stroke-width="2.1"/>
<text x="288.4" y="488.6" font-size="26" font-style="italic">φ</text>
<text x="308.7" y="492.3" font-size="24.5" textLength="18.5" lengthAdjust="spacingAndGlyphs" stroke="#000" stroke-width="0.45">=</text>
<text x="333.2" y="488.0" font-size="24.5">160°</text>
<polygon points="274.2,518.8 266.7,514.5 266.7,523.1" fill="#fff" stroke="#000" stroke-width="2.1"/>
<text x="288.4" y="525.2" font-size="26" font-style="italic">φ</text>
<text x="308.7" y="528.9" font-size="24.5" textLength="18.5" lengthAdjust="spacingAndGlyphs" stroke="#000" stroke-width="0.45">=</text>
<text x="333.2" y="524.6" font-size="24.5">180°</text>
<text x="72.5" y="627.3" font-size="25" text-anchor="end">2</text>
<text x="72.5" y="557.7" font-size="25" text-anchor="end">4</text>
<text x="72.5" y="488.1" font-size="25" text-anchor="end">6</text>
<text x="72.5" y="418.5" font-size="25" text-anchor="end">8</text>
<text x="72.5" y="348.9" font-size="25" text-anchor="end">10</text>
<text x="72.5" y="715" font-size="25" text-anchor="end">0</text>
<text x="211.7" y="715" font-size="25" text-anchor="middle">0.2</text>
<text x="339.8" y="715" font-size="25" text-anchor="middle">0.4</text>
<text x="468.0" y="715" font-size="25" text-anchor="middle">0.6</text>
<text x="596.1" y="715" font-size="25" text-anchor="middle">0.8</text>
<text x="724.3" y="715" font-size="25" text-anchor="middle">1.0</text>
<text x="767" y="697.2" font-size="25">0</text>
<text x="767" y="627.6" font-size="25">0.25</text>
<text x="767" y="558.0" font-size="25">0.50</text>
<text x="767" y="488.4" font-size="25">0.75</text>
<text x="767" y="418.8" font-size="25">1.00</text>
<text x="767" y="349.2" font-size="25">1.25</text>
<text x="77.2" y="325.2" font-size="25">(</text>
<text x="87.4" y="326.2" font-size="29">×</text>
<text x="110.6" y="325.2" font-size="25">10</text>
<text x="136" y="315.2" font-size="18.4">−6</text>
<text x="158.6" y="325.2" font-size="25">)</text>
<text x="0" y="310.3" font-size="28">(</text>
<text x="10.5" y="310.3" font-size="28" font-style="italic">b</text>
<text x="25" y="310.3" font-size="28">)</text>
<text x="0" y="25.2" font-size="28">(</text>
<text x="10.3" y="25.2" font-size="28" font-style="italic">a</text>
<text x="25" y="25.2" font-size="28">)</text>
<text x="407.4" y="755.3" font-size="28" font-style="italic">X</text>
<text x="425.8" y="751.3" font-size="19.6">*</text>
<text transform="translate(34.9,586.6) rotate(-90)" font-size="28" font-style="italic">m</text>
<text transform="translate(38.5,565.2) rotate(-90)" font-size="19.6" font-style="italic">ε</text>
<text transform="translate(34.9,549.5) rotate(-90)" font-size="28">(</text>
<text transform="translate(34.9,538.3) rotate(-90)" font-size="28">k</text>
<text transform="translate(34.9,524.6) rotate(-90)" font-size="28">g</text>
<text transform="translate(34.9,503.5) rotate(-90)" font-size="28">m</text>
<text transform="translate(22.0,484.8) rotate(-90)" font-size="19.6">−</text>
<text transform="translate(22.0,472.2) rotate(-90)" font-size="19.6">1</text>
<text transform="translate(34.9,459.8) rotate(-90)" font-size="28">)</text>
<text transform="translate(850.9,568.8) rotate(-90)" font-size="28" font-style="italic">m</text>
<text transform="translate(854.9,546.6) rotate(-90)" font-size="19.6" font-style="italic">ε</text>
<text transform="translate(856.9,534.2) rotate(-90)" font-size="38" font-style="italic">/</text>
<text transform="translate(850.9,519.5) rotate(-90)" font-size="28" font-style="italic">m</text>
<text transform="translate(854.9,497.6) rotate(-90)" font-size="19.6" font-style="italic">ε</text>
<text transform="translate(854.9,490.3) rotate(-90)" font-size="19.6">,</text>
<text transform="translate(854.9,482.7) rotate(-90)" font-size="19.6" font-style="italic">r</text>
<text transform="translate(854.9,474.5) rotate(-90)" font-size="19.6" font-style="italic">e</text>
<text transform="translate(854.9,466.8) rotate(-90)" font-size="19.6" font-style="italic">f</text>
<text x="638" y="308" font-size="25" font-style="italic">m</text>
<text x="655.2" y="311.4" font-size="17.2" font-style="italic">ej</text>
<circle cx="646.7" cy="291.7" r="1.8" fill="#000"/>
<text x="674.2" y="313.4" font-size="25" textLength="17.4" lengthAdjust="spacingAndGlyphs" stroke="#000" stroke-width="0.45">=</text>
<text x="698.3" y="308" font-size="25" font-style="italic">m</text>
<text x="715.2" y="311.4" font-size="17.2" font-style="italic">ε</text>
<text x="723.5" y="308" font-size="25" font-style="italic">f</text>
<text x="732.6" y="311.4" font-size="17.2" font-style="italic">ej</text>
<path d="M692 324.3 V370" stroke="#000" stroke-width="1.1" fill="none"/>
<path d="M692 382.5 L689.2 366 H694.8 Z" fill="#000"/>
<path d="M652.2 393 V386 H731.6 V393" stroke="#3a3a3a" stroke-width="1.3" fill="none"/>
</g>
</svg>
</body></html>
